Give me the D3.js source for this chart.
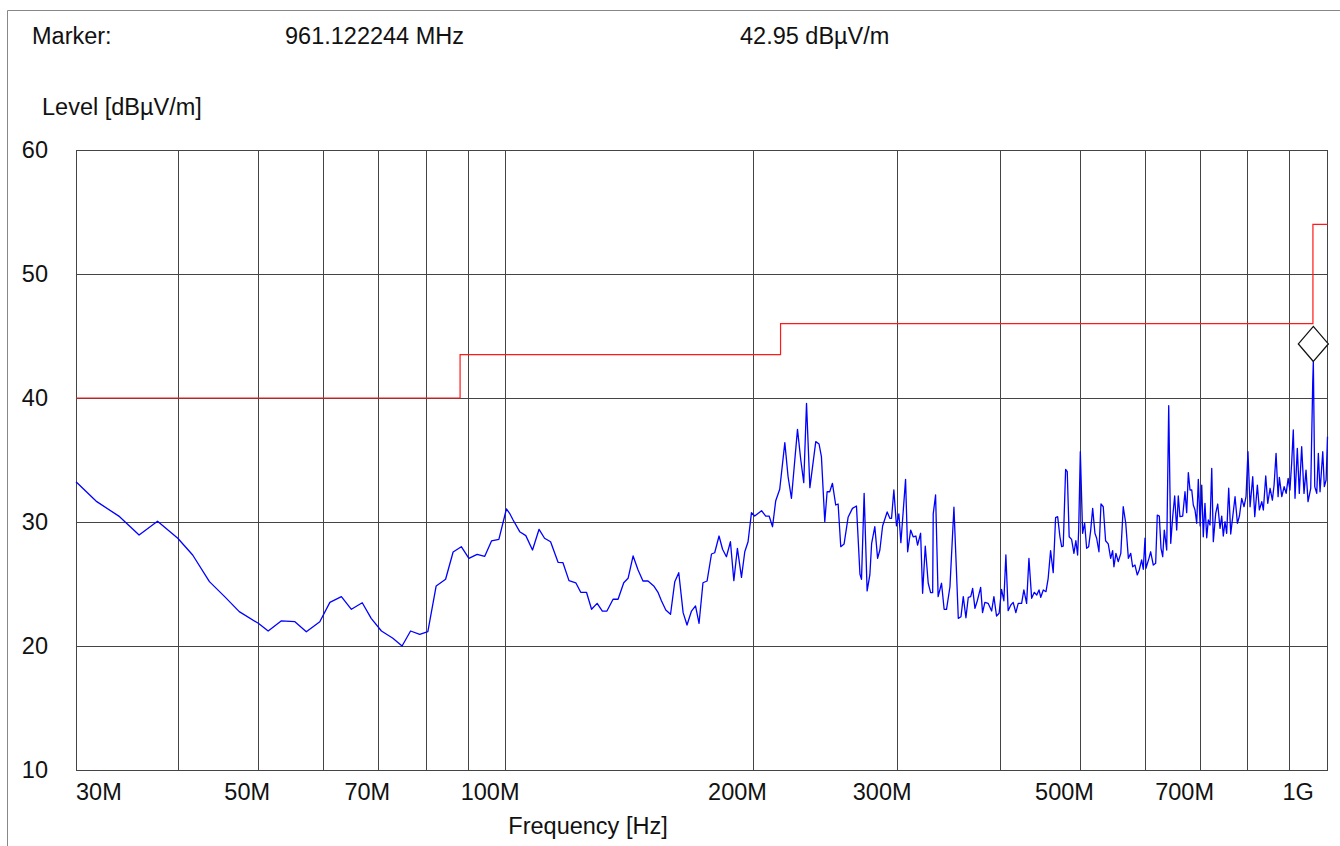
<!DOCTYPE html>
<html>
<head>
<meta charset="utf-8">
<script src="https://cdn.jsdelivr.net/npm/d3@7"></script>
<style>
  body { margin: 0; background: #fff; }
  svg text { font-family: "Liberation Sans", Arial, sans-serif; font-size: 23.5px; fill: #111; }
</style>
</head>
<body>
<div id="chart"></div>
<script>
"use strict"

// measured trace (MHz, dBµV/m)
const freqMHz = [30.0,31.8,33.9,35.8,37.7,39.9,41.6,43.6,45.5,47.4,50.0,51.4,53.3,55.4,57.2,59.4,61.1,63.1,64.9,66.9,68.6,70.6,72.9,74.8,76.6,78.6,80.4,82.3,84.5,86.3,88.3,90.2,92.3,94.3,96.1,98.1,100.2,101.1,102.1,104.0,105.8,107.8,109.8,111.5,113.4,115.8,117.4,119.4,121.7,123.4,125.4,127.2,129.2,131.1,132.8,135.1,137.0,139.2,140.9,142.9,144.9,146.9,149.0,151.4,153.3,154.7,156.6,158.7,160.6,162.4,164.4,166.2,168.3,170.2,171.9,173.8,175.8,178.0,179.6,181.8,183.6,185.6,187.7,189.5,191.4,193.6,195.4,197.2,199.1,200.9,204.8,207.2,209.2,211.2,213.1,215.5,218.6,220.6,222.7,224.8,226.5,228.6,230.5,232.3,234.5,238.4,240.6,242.2,244.5,246.1,247.9,249.8,252.1,253.8,255.7,258.1,261.0,264.2,267.2,269.8,271.0,273.0,275.3,277.4,278.8,281.3,283.5,285.3,287.5,291.2,293.4,294.8,296.7,298.9,300.9,302.6,306.6,308.4,311.0,313.2,315.6,317.1,319.8,321.6,324.0,326.7,328.9,330.8,331.3,333.5,335.9,339.1,341.6,343.9,347.2,351.1,353.8,355.4,358.1,360.4,363.1,365.5,368.0,370.0,372.4,374.8,378.4,380.4,382.9,386.4,390.2,392.7,395.6,398.5,401.2,403.8,406.1,408.7,411.8,414.5,417.6,420.4,424.4,427.1,430.4,433.2,436.5,439.8,442.8,445.6,447.8,451.0,454.4,457.2,460.3,463.7,466.8,469.5,472.5,474.8,476.9,480.1,482.3,484.9,488.2,491.4,494.1,496.5,498.0,500.3,503.5,506.4,509.2,512.1,515.0,517.9,521.2,523.7,527.1,530.1,533.5,537.0,541.0,544.7,547.7,549.7,552.8,556.3,560.4,564.2,568.2,572.4,576.2,579.3,583.1,586.8,590.1,594.1,596.8,599.7,601.3,606.4,609.3,613.8,617.9,620.7,624.2,627.2,630.2,633.0,637.3,640.9,644.5,648.1,651.7,655.4,658.3,661.4,666.5,670.8,674.0,677.1,680.3,683.6,686.6,689.9,693.2,696.3,699.9,703.0,706.1,709.4,712.9,716.1,719.5,723.0,726.2,731.1,735.2,740.0,743.5,746.8,750.4,753.9,758.2,762.5,766.8,771.8,776.9,781.3,786.4,791.5,795.9,800.2,805.0,811.0,815.6,821.6,826.2,831.8,835.5,841.1,845.8,851.4,856.9,861.0,865.8,870.7,873.8,879.8,885.6,890.6,895.6,900.1,904.5,908.6,913.0,918.9,924.0,930.2,936.3,941.6,946.9,954.1,959.5,961.1,964.9,970.3,974.7,979.3,986.8,991.2,996.1,1000.0];
const levelDb = [33.25,31.64,30.43,28.95,30.06,28.69,27.34,25.19,23.98,22.77,21.83,21.21,22.02,21.96,21.15,21.96,23.52,23.98,22.96,23.49,22.23,21.21,20.62,20.0,21.21,20.94,21.15,24.84,25.38,27.58,28.01,27.07,27.39,27.23,28.47,28.6,31.05,30.7,30.16,29.22,28.9,27.74,29.41,28.69,28.41,26.75,26.72,25.27,25.1,24.33,24.33,22.96,23.44,22.82,22.82,23.77,23.77,25.1,25.46,27.26,26.13,25.24,25.24,24.84,24.3,23.65,22.9,22.56,25.19,25.91,22.69,21.69,22.82,23.23,21.83,25.1,25.24,27.42,27.52,28.87,27.8,27.2,28.41,25.27,27.88,25.54,27.6,28.41,30.75,30.48,30.91,30.48,30.48,29.62,31.72,32.64,36.4,33.65,31.91,35.0,37.47,35.0,33.17,39.57,32.77,36.48,36.29,35.27,30.02,32.44,32.44,33.12,31.37,31.45,28.01,28.23,30.38,31.1,31.29,25.81,25.38,32.31,24.44,25.73,28.28,29.62,27.07,27.74,29.68,30.81,30.3,30.3,32.58,29.68,30.65,28.33,33.44,27.6,29.35,28.81,28.87,28.14,29.09,24.25,28.06,25.06,24.3,24.3,30.65,32.18,23.98,25.06,22.96,22.96,24.78,31.19,25.59,22.23,22.36,23.98,22.28,23.93,23.98,24.65,23.04,23.63,24.73,22.69,23.52,23.44,22.82,23.98,22.42,22.64,24.57,23.65,27.34,22.85,23.31,23.52,22.69,23.44,23.44,24.52,23.44,27.07,23.85,24.33,24.11,24.52,23.93,24.52,24.38,25.46,27.69,25.91,30.35,30.43,28.81,28.01,28.06,34.25,34.06,28.81,28.6,27.47,28.49,27.34,29.35,35.67,29.09,29.9,27.88,28.01,29.3,31.1,29.09,28.69,27.6,31.45,31.23,28.49,28.23,27.07,27.69,26.39,27.47,26.8,27.47,31.23,29.9,27.07,27.47,26.39,26.53,25.73,26.13,26.94,26.19,28.69,26.27,27.07,27.6,26.53,26.67,30.56,30.48,27.88,27.2,29.35,27.74,39.38,28.28,30.43,32.1,29.35,32.1,30.43,30.48,32.44,30.75,33.98,32.58,32.58,31.37,30.97,29.9,33.44,29.68,32.98,28.81,31.51,28.73,30.16,29.76,34.33,28.41,30.7,31.45,29.49,30.48,28.87,30.02,29.09,32.72,29.03,30.43,32.04,29.9,30.48,31.91,31.23,32.04,35.67,31.23,33.65,30.43,32.98,30.97,31.64,30.97,33.71,31.51,32.72,31.77,32.98,35.54,32.04,33.6,32.04,32.85,32.31,33.52,32.58,34.78,37.42,31.91,35.94,32.31,36.07,32.31,34.19,31.64,32.72,41.31,42.95,32.85,32.31,35.54,32.44,35.67,32.85,33.39,36.88];

// limit line steps (MHz, dBµV/m)
const limitFreq = [30, 88, 216, 960, 1000];
const limitLevel = [40, 43.5, 46, 54, 54];

// marker
const markerFreq = 961.122244;
const markerLevel = 42.95;

const gridFreqs = [40, 50, 60, 70, 80, 90, 100, 200, 300, 400, 500, 600, 700, 800, 900];
const gridLevels = [20, 30, 40, 50];
const tickFreqs = [30, 50, 70, 100, 200, 300, 500, 700, 1000];
const tickLabels = ["30M", "50M", "70M", "100M", "200M", "300M", "500M", "700M", "1G"];
const levelTicks = [10, 20, 30, 40, 50, 60];

const W = 1340, H = 846;
const plot = { left: 76, right: 1327.5, top: 150, bottom: 770 };

const svg = d3.select("#chart").append("svg")
    .attr("width", W)
    .attr("height", H);

const x = d3.scaleLog().domain([30, 1000]).range([plot.left, plot.right]);
const y = d3.scaleLinear().domain([10, 60]).range([plot.bottom, plot.top]);

drawFrame();
drawGrid();
drawLabels();
drawLimit();
drawTrace();
drawMarker();

function drawFrame() {
    svg.append("path")
        .attr("d", "M7.5," + H + "V10.5H" + W)
        .style("fill", "none")
        .style("stroke", "#888")
        .style("stroke-width", 1);
}

function drawGrid() {
    let g = svg.append("g")
        .style("stroke", "#444")
        .style("stroke-width", 1)
        .style("shape-rendering", "crispEdges");

    g.selectAll(".vgrid").data(gridFreqs).enter().append("line")
        .attr("x1", d => x(d)).attr("x2", d => x(d))
        .attr("y1", plot.top).attr("y2", plot.bottom);

    g.selectAll(".hgrid").data(gridLevels).enter().append("line")
        .attr("x1", plot.left).attr("x2", plot.right)
        .attr("y1", d => y(d)).attr("y2", d => y(d));

    g.append("rect")
        .attr("x", plot.left).attr("y", plot.top)
        .attr("width", plot.right - plot.left)
        .attr("height", plot.bottom - plot.top)
        .style("fill", "none");
}

function drawLabels() {
    svg.append("text").attr("x", 32).attr("y", 44).text("Marker:");
    svg.append("text").attr("x", 285).attr("y", 44).text(markerFreq.toFixed(6) + " MHz");
    svg.append("text").attr("x", 740).attr("y", 44).text(markerLevel.toFixed(2) + " dBµV/m");
    svg.append("text").attr("x", 42).attr("y", 115).text("Level [dBµV/m]");

    svg.selectAll(".ylab").data(levelTicks).enter().append("text")
        .attr("x", 48)
        .attr("y", d => y(d))
        .attr("dy", "0.36em")
        .style("text-anchor", "end")
        .text(d => d);

    // the instrument offsets its labels left of the grid line
    svg.selectAll(".xlab").data(tickFreqs).enter().append("text")
        .attr("x", (d, i) => {
            if (i === 0) return x(d);
            return x(d) - (tickLabels[i].length === 3 ? 34 : 45);
        })
        .attr("y", 800)
        .text((d, i) => tickLabels[i]);

    svg.append("text")
        .attr("x", 588)
        .attr("y", 834)
        .style("text-anchor", "middle")
        .text("Frequency [Hz]");
}

function drawLimit() {
    let line = d3.line()
        .x(d => x(d[0]))
        .y(d => y(d[1]))
        .curve(d3.curveStepAfter);

    svg.append("path")
        .datum(d3.zip(limitFreq, limitLevel))
        .attr("d", line)
        .style("fill", "none")
        .style("stroke", "#ff1a1a")
        .style("stroke-width", 1.2);
}

function drawTrace() {
    let line = d3.line()
        .x(d => x(d[0]))
        .y(d => y(d[1]));

    svg.append("path")
        .datum(d3.zip(freqMHz, levelDb))
        .attr("d", line)
        .style("fill", "none")
        .style("stroke", "#0000ff")
        .style("stroke-width", 1.3)
        .style("stroke-linejoin", "round");
}

function drawMarker() {
    let mx = x(markerFreq), my = y(markerLevel);
    svg.append("path")
        .attr("d", "M" + mx + "," + my + "l15,-17.5l-15,-17.5l-15,17.5z")
        .style("fill", "#fff")
        .style("stroke", "#111")
        .style("stroke-width", 1.3);
}
</script>
</body>
</html>
